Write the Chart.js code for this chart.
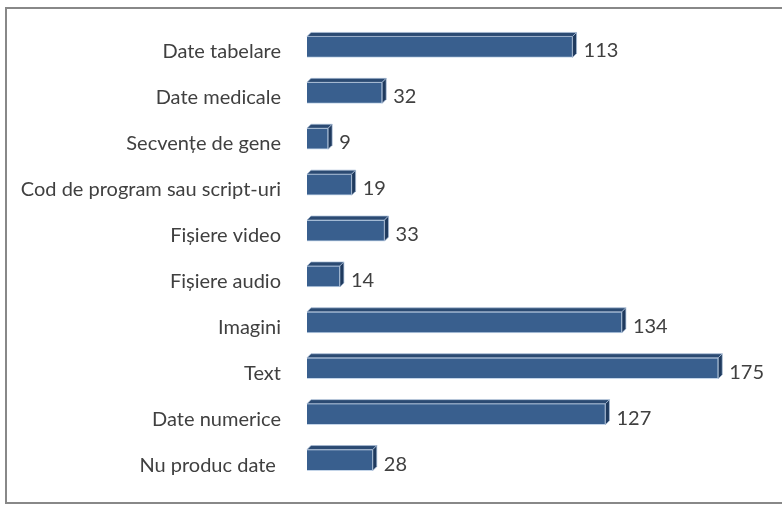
<!DOCTYPE html>
<html>
<head>
<meta charset="utf-8">
<script src="https://cdn.jsdelivr.net/npm/chart.js@4"></script>
<style>
  html, body { margin: 0; padding: 0; background: #fff; overflow: hidden; }
  #wrap { position: relative; width: 782px; height: 505px; }
  #frame { position: absolute; left: 5px; top: 7px; width: 800px; height: 493px; border: 2px solid #888; box-sizing: content-box; pointer-events: none; }
  canvas { position: absolute; left: 0; top: 0; }
</style>
</head>
<body>
<div id="wrap">
  <canvas id="c" width="782" height="505"></canvas>
  <div id="frame"></div>
</div>
<script>
const categories = [
  "Date tabelare",
  "Date medicale",
  "Secvențe de gene",
  "Cod de program sau script-uri",
  "Fișiere video",
  "Fișiere audio",
  "Imagini",
  "Text",
  "Date numerice",
  "Nu produc date "
];
const values = [113, 32, 9, 19, 33, 14, 134, 175, 127, 28];

const FONT = "Lato, 'Noto Sans', sans-serif";
const TEXT_COLOR = "#404040";

const bar3d = {
  id: "bar3d",
  afterDatasetsDraw(chart) {
    const ctx = chart.ctx;
    const meta = chart.getDatasetMeta(0);
    const d = 4;
    ctx.save();
    meta.data.forEach((bar, i) => {
      const props = bar.getProps(["x", "y", "base", "height"], true);
      const x0 = props.base, x1 = props.x;
      const top = props.y - props.height / 2, bot = props.y + props.height / 2;
      // top face
      ctx.beginPath();
      ctx.moveTo(x0, top);
      ctx.lineTo(x0 + d, top - d);
      ctx.lineTo(x1 + d, top - d);
      ctx.lineTo(x1, top);
      ctx.closePath();
      ctx.fillStyle = "#2b4a72";
      ctx.fill();
      ctx.strokeStyle = "rgba(170,190,215,0.7)";
      ctx.lineWidth = 1;
      ctx.stroke();
      // right face
      ctx.beginPath();
      ctx.moveTo(x1, top);
      ctx.lineTo(x1 + d, top - d);
      ctx.lineTo(x1 + d, bot - d);
      ctx.lineTo(x1, bot);
      ctx.closePath();
      ctx.fillStyle = "#1f3a5e";
      ctx.fill();
      ctx.stroke();
      // value label
      ctx.fillStyle = TEXT_COLOR;
      ctx.font = "20px " + FONT;
      ctx.textAlign = "left";
      ctx.textBaseline = "middle";
      ctx.fillText(String(values[i]), x1 + 11, props.y + 4);
    });
    ctx.restore();
  }
};

new Chart(document.getElementById("c"), {
  type: "bar",
  data: {
    labels: categories,
    datasets: [{
      data: values,
      backgroundColor: "#395f8e",
      borderColor: "rgba(185,205,228,0.85)",
      borderWidth: 1,
      barThickness: 21
    }]
  },
  options: {
    indexAxis: "y",
    responsive: false,
    animation: false,
    devicePixelRatio: 1,
    layout: { padding: { left: 0, right: 5, top: 24, bottom: 22 } },
    plugins: { legend: { display: false }, tooltip: { enabled: false } },
    scales: {
      x: { display: false, min: 0, max: 200 },
      y: {
        grid: { display: false, drawTicks: false },
        border: { display: false },
        ticks: {
          padding: 26,
          labelOffset: 5,
          color: TEXT_COLOR,
          font: { family: FONT, size: 20 }
        },
        afterFit(scale) {
          scale.width = 307;
          scale.paddingTop = 0;
          scale.paddingBottom = 0;
        }
      }
    }
  },
  plugins: [bar3d]
});
</script>
</body>
</html>
